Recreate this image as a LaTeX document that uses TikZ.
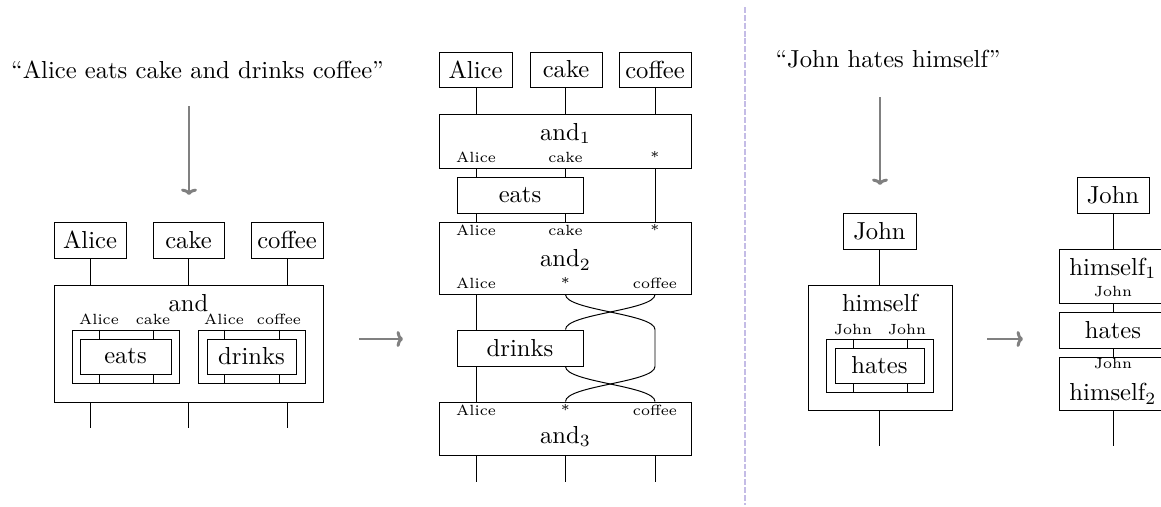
\documentclass[tikz,border=0pt]{standalone}
\usetikzlibrary{arrows.meta}
\definecolor{sepcol}{RGB}{196,188,230}
\def\u{0.4065pt}
\begin{document}
\begin{tikzpicture}[x=0.4065pt,y=-0.4065pt,
  bx/.style 2 args={draw, inner sep=0pt, line width=0.4pt, minimum width=#1*\u, minimum height=#2*\u},
  wire/.style={line width=0.4pt},
  lbl/.style={font=\fontsize{6}{7}\selectfont, anchor=base, inner sep=0pt},
  ttl/.style={anchor=base, inner sep=0pt},
  garrow/.style={draw=gray, line width=1.2pt, -{To[length=2.6pt,width=6.5pt]}},
  sepline/.style={draw=sepcol, line width=0.8pt, dash pattern=on 2.4pt off 0.8pt}]
\useasboundingbox (0,0) rectangle (1161,506);
\clip (0,0) rectangle (1161,506);

% ---------------- left panel ----------------
\node[ttl] (q1) at (197.5,78) {“Alice eats cake and drinks coffee”};
\coordinate (a1s) at (189,106); \coordinate (a1e) at (189,195);
\draw[garrow] (a1s) -- (a1e);

\node[bx={72}{36}] (Lalice) at (90,240) {Alice};
\node[bx={71}{36}] (Lcake) at (188.5,240) {cake};
\node[bx={72}{36}] (Lcoffee) at (287,240) {coffee};
\node[bx={269}{117}] (Land) at (188.5,343.5) {};
\node[ttl] (Landt) at (188.5,311.5) {and};
\node[lbl] (Ll1) at (99,324.3) {Alice};
\node[lbl] (Ll2) at (153,324.3) {cake};
\node[lbl] (Ll3) at (224,324.3) {Alice};
\node[lbl] (Ll4) at (279,324.3) {coffee};
\node[bx={107}{53}] (Leo) at (125.5,356.5) {};
\node[bx={91}{35}] (Lei) at (125.5,356.5) {eats};
\node[bx={107}{53}] (Ldo) at (251.5,356.5) {};
\node[bx={89}{35}] (Ldi) at (251.5,356.5) {drinks};

\draw[wire] (Lalice.south) -- (Lalice.south |- Land.north);
\draw[wire] (Lcake.south) -- (Lcake.south |- Land.north);
\draw[wire] (Lcoffee.south) -- (Lcoffee.south |- Land.north);
\foreach \l/\o/\i in {Ll1/Leo/Lei, Ll2/Leo/Lei, Ll3/Ldo/Ldi, Ll4/Ldo/Ldi}{
  \draw[wire] (\o.north -| \l) -- (\i.north -| \l);
  \draw[wire] (\i.south -| \l) -- (\o.south -| \l);
}
\coordinate (Lb1) at (90,428);
\coordinate (Lb2) at (188.5,428);
\coordinate (Lb3) at (287,428);
\draw[wire] (Land.south -| Lb1) -- (Lb1);
\draw[wire] (Land.south -| Lb2) -- (Lb2);
\draw[wire] (Land.south -| Lb3) -- (Lb3);

\coordinate (r1s) at (359,339); \coordinate (r1e) at (403,339);
\draw[garrow] (r1s) -- (r1e);

% ---------------- middle panel ----------------
\coordinate (cA) at (476,0);
\coordinate (cB) at (565.5,0);
\coordinate (cC) at (655,0);
\node[bx={73}{35}] (Malice) at (475.5,69.5) {Alice};
\node[bx={72}{35}] (Mcake) at (566,69.5) {cake};
\node[bx={72}{35}] (Mcoffee) at (655,69.5) {coffee};

\node[bx={252}{54}] (Mand1) at (565,141) {};
\node[ttl] (Mand1t) at (565.5,140) {and$_1$};
\node[lbl] at (476,162.7) {Alice};
\node[lbl] at (565.5,162.7) {cake};
\node[lbl] at (655,162.7) {*};

\node[bx={126}{36}] (Meats) at (520,195) {eats};

\node[bx={252}{72}] (Mand2) at (565,258) {};
\node[lbl] at (476,235) {Alice};
\node[lbl] at (565.5,235) {cake};
\node[lbl] at (655,235) {*};
\node[ttl] (Mand2t) at (565.5,266.7) {and$_2$};
\node[lbl] at (476,288.3) {Alice};
\node[lbl] at (565.5,288.3) {*};
\node[lbl] at (655,288.3) {coffee};

\node[bx={126}{36}] (Mdrinks) at (520,348) {drinks};

\node[bx={252}{53}] (Mand3) at (565,428.5) {};
\node[lbl] at (476,415) {Alice};
\node[lbl] at (565.5,415) {*};
\node[lbl] at (655,415) {coffee};
\node[ttl] (Mand3t) at (565.5,443) {and$_3$};

\draw[wire] (Malice.south -| cA) -- (Mand1.north -| cA);
\draw[wire] (Mcake.south -| cB) -- (Mand1.north -| cB);
\draw[wire] (Mcoffee.south -| cC) -- (Mand1.north -| cC);
\draw[wire] (Mand1.south -| cA) -- (Meats.north -| cA);
\draw[wire] (Mand1.south -| cB) -- (Meats.north -| cB);
\draw[wire] (Mand1.south -| cC) -- (Mand2.north -| cC);
\draw[wire] (Meats.south -| cA) -- (Mand2.north -| cA);
\draw[wire] (Meats.south -| cB) -- (Mand2.north -| cB);
\draw[wire] (Mand2.south -| cA) -- (Mdrinks.north -| cA);
\draw[wire] (Mdrinks.south -| cA) -- (Mand3.north -| cA);
\draw[wire] (Mand2.south -| cB) .. controls +(0,16) and +(0,-16) .. (Mdrinks.north -| cC)
  -- (Mdrinks.south -| cC) .. controls +(0,16) and +(0,-16) .. (Mand3.north -| cB);
\draw[wire] (Mand2.south -| cC) .. controls +(0,16) and +(0,-16) .. (Mdrinks.north -| cB);
\draw[wire] (Mdrinks.south -| cB) .. controls +(0,16) and +(0,-16) .. (Mand3.north -| cC);
\coordinate (Mb1) at (476,482);
\coordinate (Mb2) at (565.5,482);
\coordinate (Mb3) at (655,482);
\draw[wire] (Mand3.south -| Mb1) -- (Mb1);
\draw[wire] (Mand3.south -| Mb2) -- (Mb2);
\draw[wire] (Mand3.south -| Mb3) -- (Mb3);

% ---------------- separator ----------------
\coordinate (d1) at (745,7); \coordinate (d2) at (745,505);
\draw[sepline] (d1) -- (d2);

% ---------------- right panel ----------------
\node[ttl] (q2) at (888,67) {“John hates himself”};
\coordinate (a2s) at (880,97); \coordinate (a2e) at (880,185);
\draw[garrow] (a2s) -- (a2e);

\node[bx={73}{36}] (Rjohn) at (879.5,231) {John};
\node[bx={144}{125}] (Rhim) at (880,347.5) {};
\node[ttl] (Rhimt) at (880,311.7) {himself};
\node[lbl] (Rl1) at (853,334) {John};
\node[lbl] (Rl2) at (907,334) {John};
\node[bx={107}{53}] (Rho) at (879.5,365.5) {};
\node[bx={89}{35}] (Rhi) at (879.5,365.5) {hates};
\draw[wire] (Rjohn.south) -- (Rjohn.south |- Rhim.north);
\foreach \l in {Rl1,Rl2}{
  \draw[wire] (Rho.north -| \l) -- (Rhi.north -| \l);
  \draw[wire] (Rhi.south -| \l) -- (Rho.south -| \l);
}
\coordinate (Rb) at (879.5,446);
\draw[wire] (Rhim.south -| Rb) -- (Rb);

\coordinate (r2s) at (987,339); \coordinate (r2e) at (1023,339);
\draw[garrow] (r2s) -- (r2e);

\coordinate (cS) at (1113,0);
\node[bx={72}{36}] (Sjohn) at (1113,195) {John};
\node[bx={108}{54}] (Sh1) at (1113,276) {};
\node[ttl] (Sh1t) at (1113,275) {himself$_1$};
\node[lbl] at (1113,296.7) {John};
\node[bx={108}{36}] (Shates) at (1113,330) {hates};
\node[bx={108}{53}] (Sh2) at (1113,383.5) {};
\node[lbl] at (1113,368) {John};
\node[ttl] (Sh2t) at (1113,400.7) {himself$_2$};
\draw[wire] (Sjohn.south -| cS) -- (Sh1.north -| cS);
\draw[wire] (Sh1.south -| cS) -- (Shates.north -| cS);
\draw[wire] (Shates.south -| cS) -- (Sh2.north -| cS);
\coordinate (Sb) at (1113,446);
\draw[wire] (Sh2.south -| cS) -- (Sb);
\end{tikzpicture}
\end{document}
